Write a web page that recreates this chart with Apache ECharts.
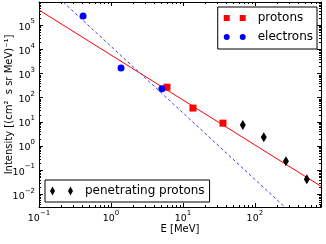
<!DOCTYPE html>
<html>
<head>
<meta charset="utf-8">
<script src="https://cdn.jsdelivr.net/npm/echarts@6/dist/echarts.min.js"></script>
<style>
html,body{margin:0;padding:0;background:#fff;}
#chart{width:326px;height:244px;}
</style>
</head>
<body>
<div id="chart"></div>
<script>
// ---- data ----
const protonE = [6.0, 13.8, 36];
const protonI = [270, 37, 8.8];
const electronE = [0.41, 1.38, 5.1];
const electronI = [2.37e5, 1660, 235];
const penE = [68, 133, 270, 527];
const penI = [7.3, 2.3, 0.234, 0.042];
// fitted power-law lines (end points at the axis limits)
const protonFitE = [0.1, 830];
const protonFitI = [4.2e5, 0.0216];
const electronFitE = [0.1, 830];
const electronFitI = [7.5e6, 1.23e-4];
// axis limits
const xMin = 0.1, xMax = 830;
const yMin = 0.003, yMax = 9e5;

const FONT = 'DejaVu Sans';
const zip = (a, b) => a.map((v, i) => [v, b[i]]);

// minor tick values (2..9 per decade)
const xMinor = [], yMinor = [];
for (let k = -2; k <= 3; k++) for (let m = 2; m <= 9; m++) {
  const v = m * Math.pow(10, k);
  if (v > xMin && v < xMax) xMinor.push(v);
}
for (let k = -3; k <= 6; k++) for (let m = 2; m <= 9; m++) {
  const v = m * Math.pow(10, k);
  if (v > yMin && v < yMax) yMinor.push(v);
}

function powLabel(v) {
  const e = Math.log10(v);
  const r = Math.round(e);
  if (Math.abs(e - r) > 1e-6) return '';
  return '{b|10}{s|' + (r < 0 ? '\u2212' + (-r) : r) + '}';
}
const rich = {
  b: {fontSize: 9.5, fontFamily: FONT, color: '#000', verticalAlign: 'bottom', lineHeight: 14},
  s: {fontSize: 7, fontFamily: FONT, color: '#000', verticalAlign: 'top', lineHeight: 7}
};

function axisCommon(extra) {
  return Object.assign({
    type: 'log', logBase: 10,
    axisLine: {show: true, onZero: false, lineStyle: {color: '#000', width: 1}},
    axisTick: {show: true, inside: true, length: 4, lineStyle: {color: '#000', width: 1}},
    splitLine: {show: false},
    minorTick: {show: false}
  }, extra);
}

const chart = echarts.init(document.getElementById('chart'), null, {renderer: 'canvas'});

const option = {
  animation: false,
  backgroundColor: '#fff',
  grid: {left: 39, top: 2, right: 5, bottom: 37, containLabel: false, outerBoundsMode: 'none'},
  xAxis: [
    axisCommon({
      min: xMin, max: xMax, position: 'bottom',
      axisLabel: {formatter: powLabel, rich: rich, margin: 3, showMinLabel: true, showMaxLabel: true},
      name: 'E [MeV]', nameLocation: 'middle', nameGap: 17, nameMoveOverlap: false,
      nameTextStyle: {fontSize: 10, fontFamily: FONT, color: '#000'}
    }),
    axisCommon({min: xMin, max: xMax, position: 'top', axisLabel: {show: false}})
  ],
  yAxis: [
    axisCommon({
      min: yMin, max: yMax, position: 'left',
      axisLabel: {formatter: powLabel, rich: rich, margin: 4},
      name: 'Intensity [(cm\u00b2  s sr MeV)\u207b\u00b9]', nameLocation: 'middle', nameGap: 25,
      nameRotate: 90, nameMoveOverlap: false,
      nameTextStyle: {fontSize: 10, fontFamily: FONT, color: '#000'}
    }),
    axisCommon({min: yMin, max: yMax, position: 'right', axisLabel: {show: false}})
  ],
  legend: [
    {
      right: 9, top: 7, orient: 'vertical',
      backgroundColor: '#fff', borderColor: '#000', borderWidth: 1, borderRadius: 0,
      padding: [5, 4, 6, 6], itemGap: 7, itemWidth: 22, itemHeight: 6,
      textStyle: {fontSize: 12, fontFamily: FONT, color: '#000', padding: [0, 0, 0, 7]},
      data: [
        {name: 'protons', icon: 'path://M0,0h6v6h-6Z M16,0h6v6h-6Z'},
        {name: 'electrons', icon: 'path://M0,3a3,3 0 1,0 6,0a3,3 0 1,0 -6,0Z M16,3a3,3 0 1,0 6,0a3,3 0 1,0 -6,0Z'}
      ]
    },
    {
      left: 45, bottom: 42, orient: 'vertical',
      backgroundColor: '#fff', borderColor: '#000', borderWidth: 1, borderRadius: 0,
      padding: [5, 5, 5, 5], itemWidth: 23, itemHeight: 9,
      textStyle: {fontSize: 12, fontFamily: FONT, color: '#000', padding: [0, 0, 0, 7]},
      data: [
        {name: 'penetrating protons', icon: 'path://M2.5,0L5,4.5L2.5,9L0,4.5Z M20.5,0L23,4.5L20.5,9L18,4.5Z'}
      ]
    }
  ],
  series: [
    {
      name: 'proton fit', type: 'line', data: zip(protonFitE, protonFitI),
      symbol: 'none', clip: true, z: 2,
      lineStyle: {color: '#ff0000', width: 1}
    },
    {
      name: 'electron fit', type: 'line', data: zip(electronFitE, electronFitI),
      symbol: 'none', clip: true, z: 2,
      lineStyle: {color: '#3a3aff', width: 1, type: [3, 2.5]}
    },
    {
      name: 'protons', type: 'scatter', data: zip(protonE, protonI),
      symbol: 'rect', symbolSize: 7, itemStyle: {color: '#ff0000', opacity: 1}, z: 3
    },
    {
      name: 'electrons', type: 'scatter', data: zip(electronE, electronI),
      symbol: 'circle', symbolSize: 7, itemStyle: {color: '#0000ff', opacity: 1}, z: 4
    },
    {
      name: 'penetrating protons', type: 'scatter', data: zip(penE, penI),
      symbol: 'diamond', symbolSize: [6, 10], itemStyle: {color: '#000', opacity: 1}, z: 4
    },
    {
      name: 'xminor', type: 'custom', data: xMinor.map(v => [v, 1]), silent: true, z: 1,
      renderItem: function (params, api) {
        const p = api.coord([api.value(0), api.value(1)]);
        const cs = params.coordSys;
        const x = Math.round(p[0]) + 0.5;
        const yb = cs.y + cs.height, yt = cs.y;
        return {type: 'group', children: [
          {type: 'line', shape: {x1: x, y1: yb, x2: x, y2: yb - 2}, style: {stroke: '#000', lineWidth: 1}},
          {type: 'line', shape: {x1: x, y1: yt, x2: x, y2: yt + 2}, style: {stroke: '#000', lineWidth: 1}}
        ]};
      }
    },
    {
      name: 'yminor', type: 'custom', data: yMinor.map(v => [1, v]), silent: true, z: 1,
      renderItem: function (params, api) {
        const p = api.coord([api.value(0), api.value(1)]);
        const cs = params.coordSys;
        const y = Math.round(p[1]) + 0.5;
        const xl = cs.x, xr = cs.x + cs.width;
        return {type: 'group', children: [
          {type: 'line', shape: {x1: xl, y1: y, x2: xl + 2, y2: y}, style: {stroke: '#000', lineWidth: 1}},
          {type: 'line', shape: {x1: xr, y1: y, x2: xr - 2, y2: y}, style: {stroke: '#000', lineWidth: 1}}
        ]};
      }
    }
  ]
};
chart.setOption(option);
</script>
</body>
</html>
